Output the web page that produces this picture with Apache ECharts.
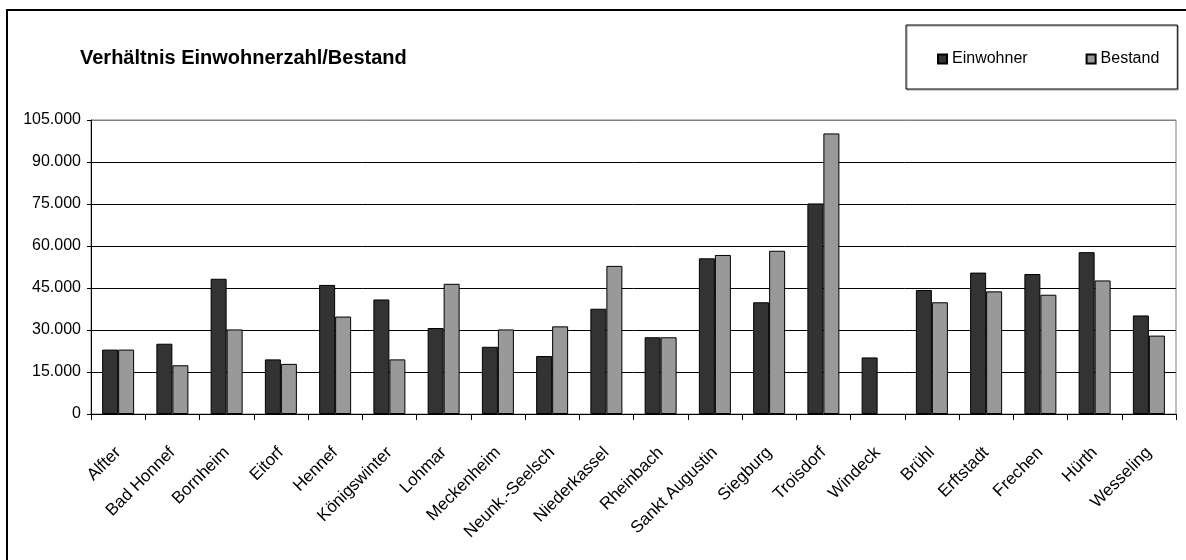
<!DOCTYPE html>
<html>
<head>
<meta charset="utf-8">
<title>Verhältnis Einwohnerzahl/Bestand</title>
<script src="https://cdn.jsdelivr.net/npm/echarts@6/dist/echarts.min.js"></script>
<style>
  html, body { margin: 0; padding: 0; background: #fff; }
  #chart { width: 1186px; height: 560px; }
</style>
</head>
<body>
<div id="chart"></div>
<script>
// Gemeinden
const orte = [
  "Alfter", "Bad Honnef", "Bornheim", "Eitorf", "Hennef", "Königswinter",
  "Lohmar", "Meckenheim", "Neunk.-Seelsch", "Niederkassel", "Rheinbach",
  "Sankt Augustin", "Siegburg", "Troisdorf", "Windeck", "Brühl",
  "Erftstadt", "Frechen", "Hürth", "Wesseling"
];
// Werte
const einwohner = [
  23000, 25100, 48300, 19500, 46100, 40900,
  30700, 24000, 20700, 37600, 27400,
  55600, 39900, 75200, 20200, 44300,
  50500, 50000, 57800, 35200
];
const bestand = [
  23000, 17400, 30200, 17900, 34800, 19500,
  46500, 30200, 31300, 52900, 27400,
  56800, 58300, 100200, null, 39900,
  43800, 42600, 47700, 28000
];
const yMax = 105000;
const yStep = 15000;

// Tausenderpunkt wie im Original
const fmt = (v) => String(v).replace(/\B(?=(\d{3})+(?!\d))/g, ".");

const chart = echarts.init(document.getElementById("chart"));
const font = "Liberation Sans, Arial, sans-serif";

chart.setOption({
  backgroundColor: "#fff",
  animation: false,
  textStyle: { fontFamily: font },
  graphic: [
    {
      type: "rect",
      shape: { x: 7, y: 10, width: 1200, height: 600 },
      style: { fill: "none", stroke: "#000", lineWidth: 2 },
      z: -1
    }
  ],
  title: {
    text: "Verhältnis Einwohnerzahl/Bestand",
    left: 80,
    top: 48,
    padding: 0,
    textStyle: { fontFamily: font, fontSize: 20, fontWeight: "bold", color: "#000" }
  },
  legend: {
    left: 906,
    top: 25,
    padding: [26, 18, 22, 31],
    itemGap: 58,
    itemWidth: 9,
    itemHeight: 9,
    borderColor: "#000",
    borderWidth: 1,
    shadowColor: "rgba(0,0,0,0.4)",
    shadowOffsetX: 1,
    shadowOffsetY: 1,
    icon: "rect",
    textStyle: { fontFamily: font, fontSize: 16, color: "#000" },
    data: ["Einwohner", "Bestand"]
  },
  grid: {
    left: 91,
    right: 10,
    top: 120,
    bottom: 146,
    show: true,
    borderColor: "#808080",
    borderWidth: 1
  },
  xAxis: {
    type: "category",
    data: orte,
    axisLine: { lineStyle: { color: "#000", width: 1 } },
    axisTick: { show: true, length: 6, lineStyle: { color: "#000" } },
    axisLabel: {
      rotate: 45,
      interval: 0,
      margin: 36,
      fontFamily: font,
      fontSize: 17,
      color: "#000"
    }
  },
  yAxis: {
    type: "value",
    min: 0,
    max: yMax,
    interval: yStep,
    axisLine: { show: true, lineStyle: { color: "#000", width: 1 } },
    axisTick: { show: true, length: 4, lineStyle: { color: "#000" } },
    axisLabel: {
      margin: 10,
      fontFamily: font,
      fontSize: 16,
      color: "#000",
      formatter: fmt
    },
    splitLine: {
      lineStyle: {
        color: ["#000", "#000", "#000", "#000", "#000", "#000", "#000", "#808080"],
        width: 1
      }
    }
  },
  series: [
    {
      name: "Einwohner",
      type: "bar",
      data: einwohner,
      barWidth: 16,
      barGap: "0%",
      itemStyle: { color: "#333333", borderColor: "#000", borderWidth: 1 }
    },
    {
      name: "Bestand",
      type: "bar",
      data: bestand,
      barWidth: 16,
      barGap: "0%",
      itemStyle: { color: "#999999", borderColor: "#000", borderWidth: 1 }
    }
  ]
});
</script>
</body>
</html>
